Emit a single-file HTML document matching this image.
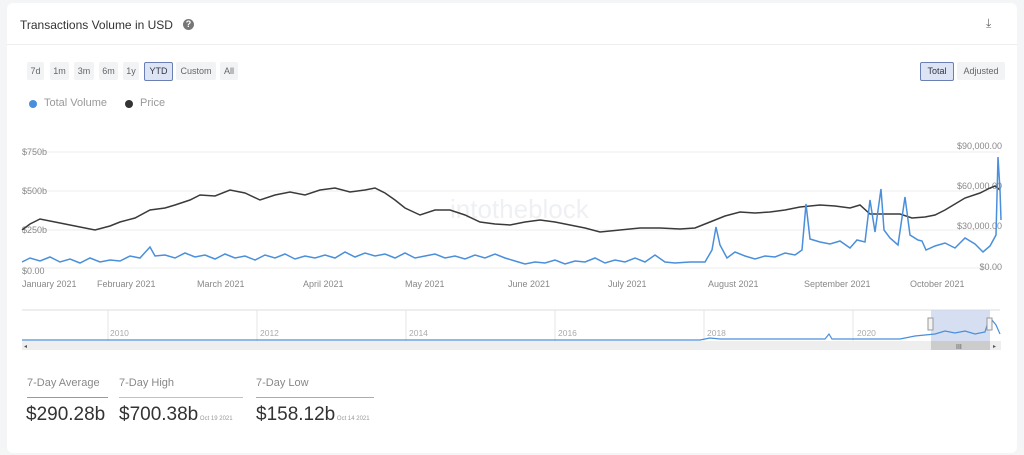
<!DOCTYPE html>
<html><head><meta charset="utf-8"><style>
body{margin:0;width:1024px;height:455px;background:#f4f5f7;font-family:"Liberation Sans",sans-serif;overflow:hidden;position:relative}
.card{position:absolute;left:7px;top:3px;width:1010px;height:450px;background:#fff;border-radius:6px}
.t{position:absolute;white-space:nowrap}
.btn{position:absolute;top:62px;height:18px;line-height:18px;font-size:9px;color:#666;background:#f2f3f5;text-align:center;border-radius:2px}
</style></head><body>
<div class="card"></div>
<div class="t" style="left:20px;top:18px;font-size:12px;color:#333">Transactions Volume in USD</div>
<div class="t" style="left:183px;top:19px;width:11px;height:11px;border-radius:50%;background:#777;color:#fff;font-size:9px;text-align:center;line-height:11px;font-weight:bold">?</div>
<div class="t" style="left:986px;top:16px;font-size:12px;color:#666">⤓</div>
<div style="position:absolute;left:7px;top:44px;width:1010px;height:1px;background:#eee"></div>
<div class="btn" style="left:27px;width:17px">7d</div>
<div class="btn" style="left:50px;width:19px">1m</div>
<div class="btn" style="left:74px;width:20px">3m</div>
<div class="btn" style="left:99px;width:19px">6m</div>
<div class="btn" style="left:123px;width:16px">1y</div>
<div class="btn" style="left:144px;width:27px;background:#dde5f5;border:1px solid #6b7fb5;height:17px;line-height:17px;color:#334">YTD</div>
<div class="btn" style="left:176px;width:40px">Custom</div>
<div class="btn" style="left:220px;width:18px">All</div>
<div class="btn" style="left:920px;width:32px;background:#dde5f5;border:1px solid #6b7fb5;height:17px;line-height:17px;color:#334">Total</div>
<div class="btn" style="left:957px;width:48px">Adjusted</div>
<div class="t" style="left:29px;top:100px;width:8px;height:8px;border-radius:50%;background:#4a8fdb"></div>
<div class="t" style="left:44px;top:97px;font-size:11px;color:#999">Total Volume</div>
<div class="t" style="left:125px;top:100px;width:8px;height:8px;border-radius:50%;background:#333"></div>
<div class="t" style="left:140px;top:97px;font-size:11px;color:#999">Price</div>
<svg width="1024" height="455" style="position:absolute;left:0;top:0" font-family="Liberation Sans" font-size="9" fill="#888">
<g stroke="#eee"><line x1="22" x2="1000" y1="152" y2="152"/><line x1="22" x2="1000" y1="191" y2="191"/><line x1="22" x2="1000" y1="230" y2="230"/><line x1="22" x2="1000" y1="268" y2="268"/></g>
<text x="22" y="155">$750b</text><text x="22" y="194">$500b</text><text x="22" y="233">$250b</text><text x="22" y="274">$0.00</text>
<g text-anchor="end"><text x="1002" y="149">$90,000.00</text><text x="1002" y="189">$60,000.00</text><text x="1002" y="229">$30,000.00</text><text x="1002" y="270">$0.00</text></g>
<g><text x="22" y="287">January 2021</text><text x="97" y="287">February 2021</text><text x="197" y="287">March 2021</text><text x="303" y="287">April 2021</text><text x="405" y="287">May 2021</text><text x="508" y="287">June 2021</text><text x="608" y="287">July 2021</text><text x="708" y="287">August 2021</text><text x="804" y="287">September 2021</text><text x="910" y="287">October 2021</text></g>
<text x="450" y="218" font-size="26" fill="#eef0f3">intotheblock</text>
<polyline fill="none" stroke="#3a3a3a" stroke-width="1.5" points="22,230 30,224 40,219 55,222 70,225 85,228 95,230 110,226 120,222 135,218 150,210 165,208 175,205 190,200 200,195 215,196 230,190 245,193 260,200 275,195 290,192 305,195 320,190 335,188 350,192 365,190 375,188 385,193 395,200 405,208 420,215 435,210 450,210 465,215 480,222 495,224 510,225 525,222 540,220 555,222 570,225 585,228 600,232 620,230 640,228 660,228 680,229 695,228 710,222 725,216 740,212 755,213 770,212 785,210 800,207 820,205 835,206 850,208 860,205 870,214 885,214 900,214 912,218 925,217 935,215 945,210 955,204 965,198 980,193 990,188 995,186 1000,190"/>
<polyline fill="none" stroke="#4a8fdb" stroke-width="1.5" points="22,262 30,258 40,261 50,257 60,262 70,259 80,263 90,258 100,262 110,260 120,261 130,256 140,258 150,247 155,256 165,255 175,258 185,253 195,257 205,255 215,259 225,254 235,258 245,256 255,260 265,255 275,258 285,254 295,259 305,256 315,258 325,255 335,258 345,252 355,257 365,253 375,256 385,254 395,258 405,253 415,258 425,256 435,254 445,258 455,256 465,259 475,255 485,258 495,254 505,258 515,261 525,264 535,262 545,263 555,260 565,264 575,261 585,262 595,258 605,263 615,260 625,262 635,258 645,262 655,255 665,262 675,263 690,262 705,262 712,250 716,227 720,245 727,258 735,252 745,256 755,259 765,256 775,257 785,253 795,255 802,250 806,204 810,239 820,242 830,244 840,241 850,248 857,240 865,242 870,200 875,232 881,189 884,230 890,238 898,245 905,197 910,235 918,240 922,241 926,250 935,246 945,243 955,248 965,238 975,244 983,252 990,246 996,235 998,157 1000,190 1001,220"/>
<line x1="22" x2="1000" y1="310" y2="310" stroke="#ddd"/>
<g stroke="#e4e4e4"><line x1="108" x2="108" y1="310" y2="341"/><line x1="257" x2="257" y1="310" y2="341"/><line x1="406" x2="406" y1="310" y2="341"/><line x1="555" x2="555" y1="310" y2="341"/><line x1="704" x2="704" y1="310" y2="341"/><line x1="853" x2="853" y1="310" y2="341"/></g>
<g fill="#aaa" font-size="8.5"><text x="110" y="336">2010</text><text x="260" y="336">2012</text><text x="409" y="336">2014</text><text x="558" y="336">2016</text><text x="707" y="336">2018</text><text x="857" y="336">2020</text></g>
<rect x="931" y="310" width="59" height="31" fill="#ccd6ef" opacity="0.8"/>
<polyline fill="none" stroke="#4a8fdb" stroke-width="1.2" points="22,340 700,340 710,338 720,339 825,339 829,334 832,339 900,339 915,336 935,334 945,331 955,333 965,331 975,334 985,332 988,322 992,320 996,325 1000,334"/>
<rect x="928" y="318" width="5" height="12" fill="#f4f4f4" stroke="#999"/><rect x="987" y="318" width="5" height="12" fill="#f4f4f4" stroke="#999"/>
<rect x="22" y="341" width="979" height="9" fill="#eee"/>
<rect x="931" y="341" width="59" height="9" fill="#ccc"/>
<text x="956" y="349" font-size="7" fill="#555">III</text>
<text x="24" y="348" font-size="6" fill="#555">◂</text><text x="993" y="348" font-size="6" fill="#555">▸</text>
</svg>
<div class="t" style="left:27px;top:377px;font-size:11px;color:#888">7-Day Average</div>
<div style="position:absolute;left:27px;top:397px;width:81px;height:1px;background:#7f9fc9"></div>
<div class="t" style="left:26px;top:404px;font-size:19px;color:#333">$290.28b</div>
<div class="t" style="left:119px;top:377px;font-size:11px;color:#888">7-Day High</div>
<div style="position:absolute;left:119px;top:397px;width:124px;height:1px;background:#a5d98c"></div>
<div class="t" style="left:119px;top:404px;font-size:19px;color:#333">$700.38b<span style="font-size:6px;color:#999"> Oct 19 2021</span></div>
<div class="t" style="left:256px;top:377px;font-size:11px;color:#888">7-Day Low</div>
<div style="position:absolute;left:256px;top:397px;width:118px;height:1px;background:#d99a94"></div>
<div class="t" style="left:256px;top:404px;font-size:19px;color:#333">$158.12b<span style="font-size:6px;color:#999"> Oct 14 2021</span></div>
</body></html>
